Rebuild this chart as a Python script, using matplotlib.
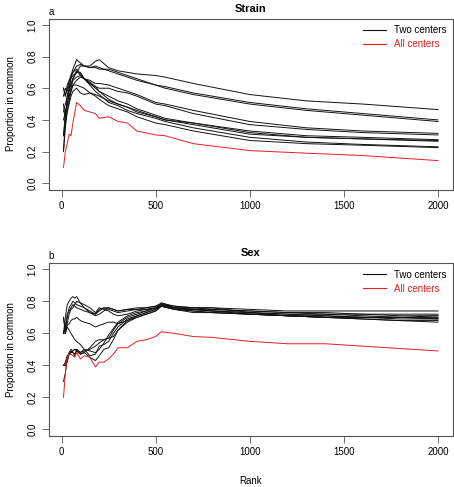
import matplotlib
matplotlib.use("Agg")
import matplotlib.pyplot as plt
from matplotlib.lines import Line2D

plt.rcParams['font.family'] = ['Liberation Sans', 'DejaVu Sans']

# ---------------- data ----------------
rank_strain = [10, 20, 30, 40, 50, 60, 80, 100, 120, 150, 180, 200, 250, 300,
               350, 400, 500, 550, 700, 1000, 1300, 1600, 2000]

strain_two = [
    [0.60, 0.55, 0.62, 0.65, 0.68, 0.70, 0.74, 0.75, 0.74, 0.74, 0.77, 0.78, 0.73, 0.71, 0.70, 0.69, 0.68, 0.67, 0.63, 0.56, 0.52, 0.50, 0.465],
    [0.40, 0.45, 0.50, 0.58, 0.62, 0.66, 0.70, 0.74, 0.74, 0.73, 0.73, 0.72, 0.72, 0.70, 0.68, 0.66, 0.62, 0.61, 0.57, 0.51, 0.47, 0.44, 0.40],
    [0.50, 0.40, 0.55, 0.60, 0.68, 0.72, 0.78, 0.76, 0.74, 0.73, 0.74, 0.73, 0.71, 0.69, 0.67, 0.65, 0.62, 0.60, 0.56, 0.50, 0.46, 0.43, 0.39],
    [0.30, 0.45, 0.50, 0.55, 0.60, 0.65, 0.67, 0.68, 0.66, 0.65, 0.63, 0.63, 0.62, 0.60, 0.58, 0.56, 0.51, 0.50, 0.46, 0.39, 0.35, 0.33, 0.315],
    [0.55, 0.60, 0.58, 0.62, 0.66, 0.68, 0.70, 0.70, 0.66, 0.63, 0.61, 0.60, 0.60, 0.58, 0.57, 0.55, 0.50, 0.49, 0.44, 0.37, 0.34, 0.32, 0.305],
    [0.20, 0.35, 0.45, 0.52, 0.58, 0.62, 0.65, 0.67, 0.66, 0.63, 0.60, 0.58, 0.55, 0.52, 0.50, 0.47, 0.43, 0.41, 0.38, 0.33, 0.30, 0.29, 0.275],
    [0.45, 0.50, 0.55, 0.60, 0.63, 0.66, 0.71, 0.68, 0.66, 0.64, 0.61, 0.58, 0.53, 0.50, 0.48, 0.45, 0.42, 0.40, 0.37, 0.31, 0.29, 0.28, 0.265],
    [0.60, 0.55, 0.60, 0.64, 0.67, 0.70, 0.72, 0.69, 0.66, 0.62, 0.58, 0.56, 0.51, 0.49, 0.46, 0.44, 0.41, 0.39, 0.35, 0.29, 0.26, 0.245, 0.23],
    [0.20, 0.40, 0.50, 0.55, 0.58, 0.62, 0.62, 0.61, 0.60, 0.57, 0.55, 0.53, 0.49, 0.47, 0.45, 0.42, 0.38, 0.37, 0.33, 0.27, 0.25, 0.24, 0.225],
    [0.30, 0.40, 0.45, 0.50, 0.55, 0.58, 0.60, 0.57, 0.56, 0.57, 0.56, 0.55, 0.52, 0.50, 0.48, 0.46, 0.42, 0.40, 0.38, 0.32, 0.29, 0.28, 0.27],
]
strain_all = [0.10, 0.20, 0.25, 0.31, 0.30, 0.38, 0.51, 0.49, 0.46, 0.45, 0.44, 0.41, 0.42, 0.39, 0.38, 0.33, 0.305, 0.30, 0.25, 0.206, 0.19, 0.175, 0.143]

rank_sex = [10, 20, 30, 40, 50, 60, 70, 80, 100, 120, 150, 180, 200, 225, 250, 275,
            300, 350, 400, 450, 500, 530, 600, 700, 800, 1000, 1200, 1400, 1600, 1800, 2000]

sex_two = [
    [0.60, 0.70, 0.78, 0.80, 0.82, 0.83, 0.82, 0.83, 0.79, 0.78, 0.76, 0.73, 0.76, 0.75, 0.74, 0.72, 0.71, 0.72, 0.74, 0.75, 0.76, 0.78, 0.76, 0.75, 0.75, 0.74, 0.73, 0.73, 0.72, 0.72, 0.72],
    [0.70, 0.62, 0.70, 0.76, 0.78, 0.80, 0.79, 0.78, 0.77, 0.76, 0.74, 0.72, 0.74, 0.76, 0.75, 0.74, 0.73, 0.74, 0.75, 0.76, 0.77, 0.79, 0.77, 0.76, 0.76, 0.75, 0.74, 0.74, 0.74, 0.74, 0.74],
    [0.60, 0.65, 0.72, 0.74, 0.76, 0.78, 0.77, 0.76, 0.75, 0.74, 0.73, 0.72, 0.75, 0.76, 0.76, 0.75, 0.74, 0.75, 0.76, 0.76, 0.77, 0.78, 0.77, 0.76, 0.76, 0.73, 0.72, 0.72, 0.71, 0.70, 0.70],
    [0.60, 0.63, 0.65, 0.66, 0.68, 0.69, 0.69, 0.70, 0.68, 0.67, 0.66, 0.64, 0.65, 0.66, 0.67, 0.67, 0.66, 0.68, 0.70, 0.72, 0.74, 0.77, 0.75, 0.75, 0.74, 0.72, 0.71, 0.70, 0.70, 0.69, 0.69],
    [0.70, 0.60, 0.64, 0.62, 0.60, 0.58, 0.56, 0.55, 0.53, 0.50, 0.49, 0.48, 0.50, 0.54, 0.59, 0.63, 0.67, 0.71, 0.73, 0.74, 0.76, 0.77, 0.75, 0.74, 0.73, 0.72, 0.71, 0.70, 0.69, 0.68, 0.68],
    [0.40, 0.40, 0.42, 0.47, 0.48, 0.49, 0.50, 0.49, 0.47, 0.48, 0.51, 0.55, 0.56, 0.56, 0.57, 0.62, 0.66, 0.70, 0.72, 0.74, 0.76, 0.78, 0.76, 0.75, 0.74, 0.73, 0.71, 0.71, 0.70, 0.70, 0.71],
    [0.40, 0.40, 0.45, 0.48, 0.50, 0.49, 0.50, 0.50, 0.48, 0.50, 0.46, 0.47, 0.52, 0.53, 0.55, 0.60, 0.64, 0.69, 0.71, 0.73, 0.75, 0.77, 0.76, 0.76, 0.75, 0.74, 0.73, 0.72, 0.72, 0.71, 0.71],
    [0.30, 0.35, 0.45, 0.47, 0.48, 0.48, 0.47, 0.49, 0.47, 0.48, 0.45, 0.43, 0.46, 0.50, 0.51, 0.56, 0.62, 0.67, 0.70, 0.72, 0.74, 0.77, 0.75, 0.73, 0.73, 0.72, 0.71, 0.70, 0.69, 0.68, 0.67],
    [0.40, 0.42, 0.46, 0.47, 0.49, 0.48, 0.46, 0.50, 0.48, 0.49, 0.50, 0.52, 0.54, 0.56, 0.57, 0.58, 0.62, 0.68, 0.71, 0.73, 0.75, 0.79, 0.76, 0.75, 0.74, 0.73, 0.72, 0.71, 0.70, 0.70, 0.69],
    [0.60, 0.60, 0.66, 0.72, 0.75, 0.76, 0.78, 0.80, 0.79, 0.76, 0.73, 0.71, 0.72, 0.74, 0.76, 0.75, 0.74, 0.75, 0.75, 0.75, 0.76, 0.78, 0.75, 0.74, 0.73, 0.72, 0.71, 0.70, 0.70, 0.70, 0.695],
]
sex_all = [0.20, 0.35, 0.45, 0.47, 0.47, 0.46, 0.45, 0.48, 0.44, 0.46, 0.45, 0.39, 0.42, 0.42, 0.44, 0.47, 0.51, 0.51, 0.55, 0.56, 0.58, 0.61, 0.60, 0.58, 0.575, 0.55, 0.535, 0.535, 0.52, 0.505, 0.49]

titles = ["Strain", "Sex"]
panel_labels = ["a", "b"]
legend_labels = ["Two centers", "All centers"]
x_ticks = [0, 500, 1000, 1500, 2000]
y_ticks = [0.0, 0.2, 0.4, 0.6, 0.8, 1.0]

RED = '#ee1c1c'

# ---------------- figure ----------------
W, H = 454, 487
fig = plt.figure(figsize=(W / 100, H / 100), dpi=100)

def px_axes(left, top, right, bottom):
    return fig.add_axes([left / W, 1 - bottom / H, (right - left) / W, (bottom - top) / H])

ax1 = px_axes(48.5, 18.5, 453, 189.6)
ax2 = px_axes(48.5, 263, 453, 435.7)

panels = [
    (ax1, rank_strain, strain_two, strain_all),
    (ax2, rank_sex, sex_two, sex_all),
]

for i, (ax, ranks, two, allc) in enumerate(panels):
    for series in two:
        ax.plot(ranks, series, color='#111111', lw=0.7)
    ax.plot(ranks, allc, color=RED, lw=0.7)
    ax.set_xlim(-69.6, 2079.6)
    ax.set_ylim(-0.04, 1.04)
    ax.set_xticks(x_ticks)
    ax.set_xticklabels([str(t) for t in x_ticks], fontsize=7)
    ax.set_yticks(y_ticks)
    ax.set_yticklabels([f"{t:.1f}" for t in y_ticks], fontsize=7,
                       rotation=90, va='center')
    ax.tick_params(axis='both', length=5, width=0.6, color='#555555', pad=3)
    for sp in ax.spines.values():
        sp.set_linewidth(0.8)
        sp.set_color('#555555')
    ax.set_ylabel("Proportion in common", fontsize=7, labelpad=8)
    ax.set_title(titles[i], fontsize=8, fontweight='bold', pad=5)
    ax.text(0.0, 1.01, panel_labels[i], transform=ax.transAxes, fontsize=7,
            ha='left', va='bottom')
    handles = [Line2D([0], [0], color='#111111', lw=0.8),
               Line2D([0], [0], color=RED, lw=0.8)]
    leg = ax.legend(handles, legend_labels, loc='upper right', frameon=False,
                    fontsize=7, handlelength=2.4, borderaxespad=0.3,
                    labelspacing=0.4)
    leg.get_texts()[1].set_color(RED)

ax2.set_xlabel("Rank", fontsize=7, labelpad=14)

fig.savefig("out.png", dpi=100)
